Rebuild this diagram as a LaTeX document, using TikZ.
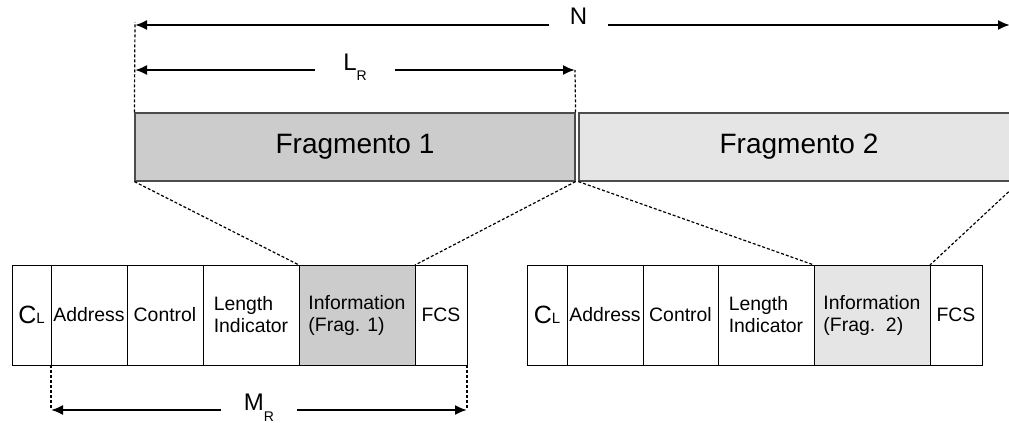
\documentclass[tikz,border=0pt]{standalone}
\usepackage{fontspec}
\setmainfont{Liberation Sans}
\usetikzlibrary{positioning,arrows.meta}

\tikzset{
  frag/.style={draw=black!70, line width=0.6pt, minimum width=220pt, minimum height=34pt, inner sep=0pt, font=\fontsize{14}{16}\selectfont},
  cell/.style={draw, line width=0.5pt, minimum height=50pt, inner sep=0pt, outer sep=0pt, align=left, font=\fontsize{9.7}{11}\selectfont},
  guide/.style={dash pattern=on 1.5pt off 1pt, line width=0.6pt},
  dim/.style={{Latex[length=6pt,width=5pt]}-{Latex[length=6pt,width=5pt]}, line width=1pt},
  lbl/.style={fill=white, anchor=base, inner ysep=1pt, font=\fontsize{12}{14}\selectfont}
}
\newcommand{\cfield}{{\fontsize{12.5}{14}\selectfont C}{\fontsize{7.5}{9}\selectfont L}}
\newcommand{\dimsub}[2]{#1\raisebox{-5.5pt}{\fontsize{7}{8}\selectfont #2}}

\begin{document}
\begin{tikzpicture}[x=0.5pt, y=-0.5pt]
      \useasboundingbox (0,0) rectangle (1009,423);

      \node[frag, fill=black!20] (frag1) at (355,147) {Fragmento 1};
      \node[frag, fill=black!10] (frag2) at (799,147) {Fragmento 2};

      % first frame
      \node[cell, minimum width=19.5pt] (cl1) at (31.5,315) {\cfield};
      \node[cell, minimum width=38pt, right=0pt of cl1] (addr1) {Address};
      \node[cell, minimum width=38pt, right=0pt of addr1] (ctrl1) {Control};
      \node[cell, minimum width=48pt, right=0pt of ctrl1] (li1) {Length\\Indicator};
      \node[cell, minimum width=58pt, fill=black!20, right=0pt of li1] (info1) {Information\\(Frag. 1)};
      \node[cell, minimum width=26pt, right=0pt of info1] (fcs1) {FCS};

      % second frame
      \node[cell, minimum width=20pt] (cl2) at (547,315) {\cfield};
      \node[cell, minimum width=38pt, right=0pt of cl2] (addr2) {Address};
      \node[cell, minimum width=37.5pt, right=0pt of addr2] (ctrl2) {Control};
      \node[cell, minimum width=48pt, right=0pt of ctrl2] (li2) {Length\\Indicator};
      \node[cell, minimum width=58pt, fill=black!10, right=0pt of li2] (info2) {Information\\(Frag.\ \ 2)};
      \node[cell, minimum width=26pt, right=0pt of info2] (fcs2) {FCS};

      \draw[guide] (frag1.south west) -- (info1.north west);
      \draw[guide] (frag1.south east) -- (info1.north east);
      \draw[guide] (frag2.south west) -- (info2.north west);
      \draw[guide] (frag2.south east) -- (info2.north east);

      \coordinate (ntop) at (135,22);
      \coordinate (nleft) at (135,25);
      \coordinate (nright) at (1010,25);
      \coordinate (lleft) at (135,70);
      \coordinate (lright) at (575,70);
      \coordinate (mleft) at (51,410);
      \coordinate (mright) at (467,410);

      \draw[guide] (frag1.north west) -- (ntop);
      \draw[guide] (frag1.north east) -- (lright);
      \draw[guide] (addr1.south west) -- (mleft);
      \draw[guide] (fcs1.south east) -- (mright);

      \draw[dim] (nleft) -- (nright) node[lbl, pos=0.507, inner xsep=10.5pt] (nlbl) {N};
      \draw[dim] (lleft) -- (lright) node[lbl, midway, inner xsep=14pt] (lrlbl) {\dimsub{L}{R}};
      \draw[dim] (mleft) -- (mright) node[lbl, midway, inner xsep=11.5pt] (mrlbl) {\dimsub{M}{R}};
    \end{tikzpicture}
\end{document}
